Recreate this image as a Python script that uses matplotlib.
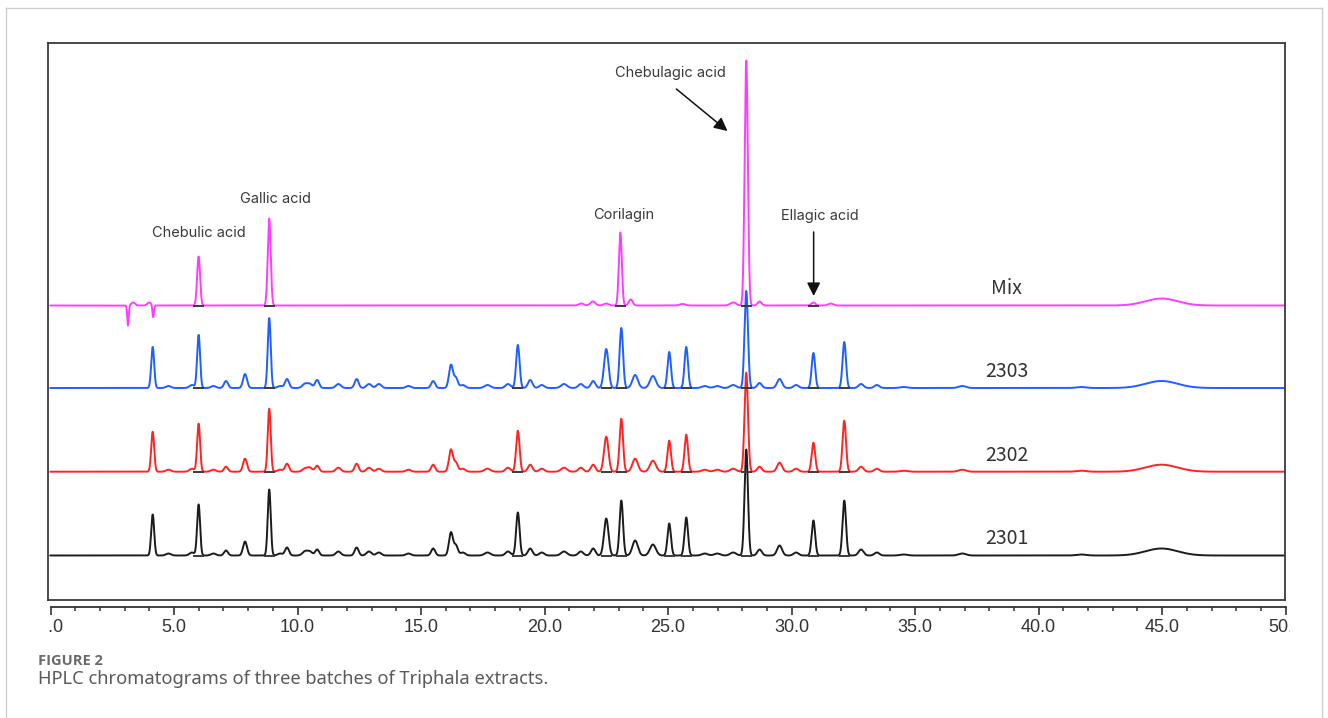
import numpy as np
import matplotlib
matplotlib.use('Agg')
import matplotlib.pyplot as plt
from matplotlib.transforms import Bbox, TransformedBbox
from matplotlib.lines import Line2D

# peak table of the three Triphala batches (retention time in min, height in mAU-ish units)
rt = [4.14, 4.78, 5.73, 6.00, 6.60, 7.11, 7.88, 8.86, 9.30, 9.58, 10.3, 10.5, 10.8,
      11.66, 12.4, 12.9, 13.3, 14.5, 15.5, 16.22, 16.42, 16.7, 17.7, 18.53, 18.93,
      19.43, 19.9, 20.8, 21.48, 21.98, 22.51, 23.12, 23.68, 24.4, 25.06, 25.75,
      26.5, 27.0, 27.65, 28.18, 28.72, 29.53, 30.2, 30.9, 32.15, 32.83, 33.47,
      34.56, 36.93, 41.75, 45.0]
width = [0.06, 0.1, 0.1, 0.06, 0.1, 0.08, 0.08, 0.06, 0.1, 0.08, 0.1, 0.1, 0.08,
         0.1, 0.08, 0.1, 0.1, 0.1, 0.08, 0.08, 0.08, 0.1, 0.12, 0.1, 0.07,
         0.09, 0.1, 0.12, 0.1, 0.09, 0.09, 0.07, 0.11, 0.12, 0.07, 0.07,
         0.12, 0.12, 0.12, 0.07, 0.09, 0.1, 0.1, 0.07, 0.07, 0.1, 0.1,
         0.15, 0.15, 0.2, 0.65]
h_2303 = [41, 2, 3, 53, 2, 7, 14, 70, 2, 9, 4, 4, 8,
          4, 9, 4, 4, 2, 7, 23, 10, 3, 3, 4, 43,
          8, 3, 4, 4, 7, 39, 60, 13, 12, 36, 41,
          2, 2, 3, 97, 5, 9, 3, 35, 46, 4, 3,
          1, 2, 1, 7]
h_2302 = [40, 2, 3, 48, 2, 5, 13, 63, 2, 8, 3, 4, 6,
          4, 8, 4, 3, 2, 7, 22, 9, 3, 3, 4, 41,
          7, 3, 4, 4, 7, 35, 53, 13, 11, 31, 37,
          2, 2, 3, 99, 5, 9, 3, 29, 51, 5, 3,
          1, 2, 1, 7]
h_2301 = [41, 2, 3, 51, 2, 5, 14, 66, 2, 8, 4, 4, 6,
          4, 8, 4, 3, 2, 7, 23, 10, 3, 3, 4, 43,
          7, 3, 4, 4, 7, 37, 55, 15, 11, 32, 38,
          2, 2, 3, 106, 6, 10, 3, 35, 55, 6, 3,
          1, 2, 1, 7]

# mixed reference standards
mix_rt = [3.14, 3.35, 4.00, 4.16, 6.00, 8.86, 21.5, 21.97, 22.5, 23.08, 23.5,
          25.6, 27.65, 28.18, 28.72, 30.9, 31.6, 45.0]
mix_width = [0.03, 0.08, 0.08, 0.03, 0.06, 0.06, 0.1, 0.1, 0.1, 0.06, 0.08,
             0.12, 0.12, 0.065, 0.08, 0.08, 0.1, 0.65]
mix_h = [-20, 3, 3, -12, 49, 87, 2, 4, 2, 73, 6,
         1.5, 3, 245, 4, 3, 2, 7]

mix_marks = [6.00, 8.86, 23.08, 28.18, 30.9]
sample_marks = [6.00, 8.86, 18.93, 22.51, 23.12, 25.06, 25.75, 28.18, 30.9, 32.15]

names = ['Mix', '2303', '2302', '2301']
tick_labels = ['0.0', '5.0', '10.0', '15.0', '20.0', '25.0', '30.0', '35.0', '40.0', '45.0', '50.0']


def chromatogram(t, centers, heights, sigmas):
    y = np.zeros_like(t)
    for c, h, s in zip(centers, heights, sigmas):
        y += h * np.exp(-0.5 * ((t - c) / s) ** 2)
    return y


t = np.linspace(0, 50, 20001)
traces = [
    (chromatogram(t, mix_rt, mix_h, mix_width), mix_marks),
    (chromatogram(t, rt, h_2303, width), sample_marks),
    (chromatogram(t, rt, h_2302, width), sample_marks),
    (chromatogram(t, rt, h_2301, width), sample_marks),
]
colors = ['#ff3cff', '#1f5fff', '#ff2424', '#1c1c1c']
offsets = [294.5, 212, 128.3, 44.5]

W, H = 1328, 718
fig = plt.figure(figsize=(W / 100, H / 100), dpi=100)

# thin card frame
for xs, ys in [([6 / W, 1322 / W], [1 - 8 / H, 1 - 8 / H]),
               ([6 / W, 6 / W], [1 - 8 / H, 0]),
               ([1322 / W, 1322 / W], [1 - 8 / H, 0])]:
    fig.add_artist(Line2D(xs, ys, transform=fig.transFigure, color='#cfcfcf', lw=1))

ax = fig.add_axes([48 / W, 1 - 600 / H, (1285 - 48) / W, (600 - 43) / H])
ax.set_xlim(-0.1, 50)
ax.set_ylim(0, 557)
ax.set_xticks([])
ax.set_yticks([])
for sp in ax.spines.values():
    sp.set_color('#3a3a3a')
    sp.set_linewidth(1.3)

for (y, marks), col, off, name in zip(traces, colors, offsets, names):
    ax.plot(t, y + off, color=col, lw=1.4, solid_joinstyle='round')
    ax.hlines([off] * len(marks), np.array(marks) - 0.22, np.array(marks) + 0.22,
              color='#3a3a3a', lw=1.4, zorder=3)
    ax.text(38.72, off + 16.5, name, ha='center', va='center', fontsize=14,
            family=['Noto Sans CJK SC', 'DejaVu Sans'], color='#333333')

lab = dict(ha='center', va='center', fontsize=10.5, family='Inter', color='#3a3a3a')
ax.text(6.02, 367, 'Chebulic acid', **lab)
ax.text(9.12, 401, 'Gallic acid', **lab)
ax.text(23.21, 384.5, 'Corilagin', **lab)
ax.text(25.11, 527, 'Chebulagic acid', **lab)
ax.text(31.17, 384, 'Ellagic acid', **lab)
arrow = dict(arrowstyle='-|>', color='#111111', lw=1.1, mutation_scale=20,
             shrinkA=0, shrinkB=0)
ax.annotate('', xy=(27.42, 469), xytext=(25.35, 511), arrowprops=arrow)
ax.annotate('', xy=(30.91, 304), xytext=(30.91, 368), arrowprops=arrow)

# time axis drawn separately below the frame
ax2 = fig.add_axes([50.5 / W, 1 - 607 / H, 1235.2 / W, 0.0001])
ax2.set_xlim(0, 50)
ax2.patch.set_visible(False)
for s in ['top', 'left', 'right']:
    ax2.spines[s].set_visible(False)
ax2.spines['bottom'].set_color('#333333')
ax2.spines['bottom'].set_linewidth(1.3)
ax2.set_yticks([])
ax2.set_xticks(np.arange(0, 51, 5))
ax2.set_xticks(np.arange(0, 51, 1), minor=True)
ax2.set_xticklabels(tick_labels)
ax2.tick_params(axis='x', which='major', length=5.8, width=1.2, color='#333333',
                labelsize=13, labelcolor='#333333', pad=2.5,
                labelfontfamily='Liberation Sans')
ax2.tick_params(axis='x', which='minor', length=3.2, width=1.1, color='#333333')
clip = TransformedBbox(Bbox.from_extents(49 / W, 0, 1290 / W, 1), fig.transFigure)
for lbl in ax2.get_xticklabels():
    lbl.set_clip_on(True)
    lbl.set_clip_box(clip)

fig.text(38 / W, 1 - 661 / H, 'FIGURE 2', fontsize=10.5, fontweight='bold',
         family=['Open Sans', 'DejaVu Sans'], color='#6a6a6a', va='center')
fig.text(38 / W, 1 - 679 / H, 'HPLC chromatograms of three batches of Triphala extracts.',
         fontsize=13.2, family='Noto Sans', color='#5a5a5a', va='center')

fig.savefig('out.png', dpi=100)
plt.close(fig)
